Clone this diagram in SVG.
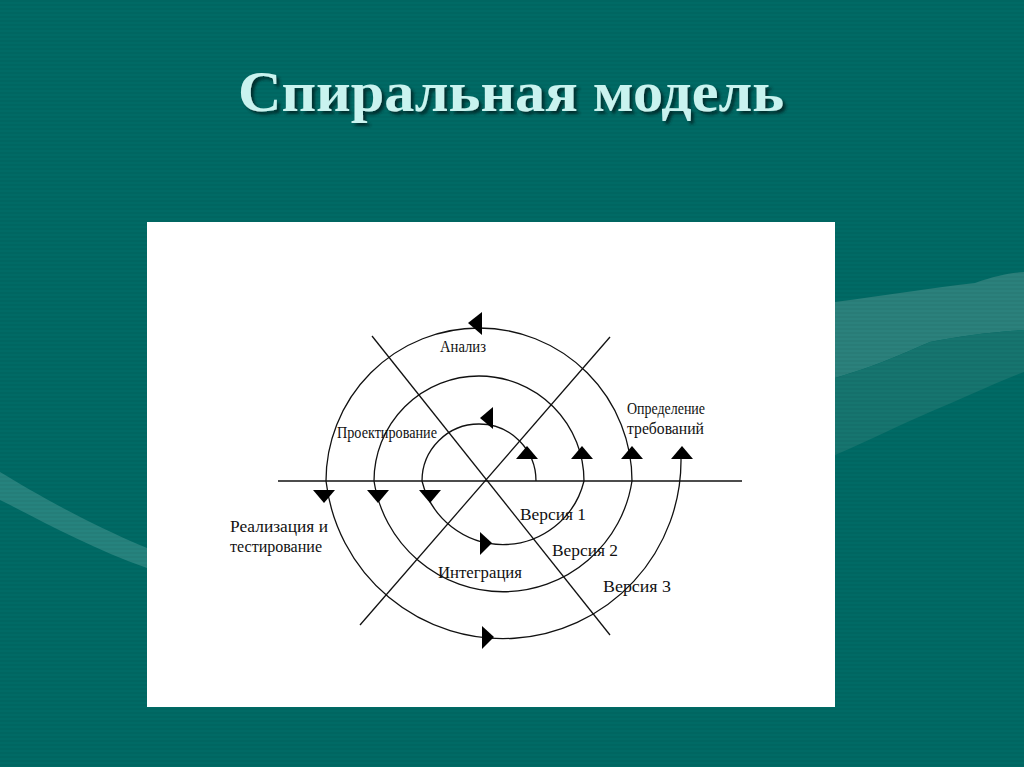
<svg xmlns="http://www.w3.org/2000/svg" width="1024" height="767" viewBox="0 0 1024 767">
<defs>
<pattern id="stripes" width="4" height="4" patternUnits="userSpaceOnUse">
<rect width="4" height="2" fill="#000" opacity="0.04"/>
</pattern>
<filter id="sh" x="-5%" y="-20%" width="110%" height="140%">
<feDropShadow dx="3" dy="3" stdDeviation="1.5" flood-color="#002a26" flood-opacity="0.9"/>
</filter>
</defs>
<style>
.ln{fill:none;stroke:#111;stroke-width:1.3}
.ah{fill:#000}
.lb{font-family:"Liberation Serif","Times New Roman",serif;font-size:16px;fill:#111}
.title{font-family:"Liberation Serif","Times New Roman",serif;font-size:58px;font-weight:bold;fill:#c9f3ef}
</style>
<rect width="1024" height="767" fill="#006a65"/>
<path d="M835,302 C880,296 930,288 975,283 C995,276 1010,273 1024,272 L1024,330 C990,332 960,336 930,342 C900,355 870,368 835,378 Z" fill="#2b817c"/>
<path d="M835,378 C870,368 900,355 930,342 C960,336 990,332 1024,330 L1024,372 C990,385 960,400 930,412 C900,425 870,440 835,455 Z" fill="#16756f"/>
<path d="M0,472 C30,490 80,520 147,548 L147,568 C90,548 40,520 0,500 Z" fill="#2f8a84" opacity="0.8"/>
<rect width="1024" height="767" fill="url(#stripes)"/>
<text class="title" x="511" y="111" text-anchor="middle" textLength="546" lengthAdjust="spacingAndGlyphs" filter="url(#sh)">Спиральная модель</text>
<rect x="147" y="222" width="688" height="485" fill="#fff"/>
<g id="connectors">
<line class="ln" x1="278" y1="481" x2="742" y2="481"/>
<line class="ln" x1="372" y1="336" x2="610" y2="635"/>
<line class="ln" x1="610" y1="337" x2="360" y2="625"/>
<path class="ln" d="M536,481 A57,57 0 0 0 422,481 A83.4,83.4 0 0 0 584,481 A105,105 0 0 0 374,481 A130.5,130.5 0 0 0 632,481 A153,153 0 0 0 326,481 A178.1,178.1 0 0 0 681,458"/>
</g>
<g id="arrows">
<polygon class="ah" points="468,323 482,312 482,335"/>
<polygon class="ah" points="480,418 493,407 493,429"/>
<polygon class="ah" points="516,459 527,446 538,459"/>
<polygon class="ah" points="571,459 582,446 593,459"/>
<polygon class="ah" points="621,459 632,446 643,459"/>
<polygon class="ah" points="671,459 682,446 693,459"/>
<polygon class="ah" points="313,490 335,490 324,503"/>
<polygon class="ah" points="367,490 389,490 378,503"/>
<polygon class="ah" points="419,490 441,490 430,503"/>
<polygon class="ah" points="492,543 480,532 480,555"/>
<polygon class="ah" points="494,637 482,626 482,649"/>
</g>
<g id="labels">
<text class="lb" x="440" y="352" textLength="46" lengthAdjust="spacingAndGlyphs">Анализ</text>
<text class="lb" x="627" y="414" textLength="78" lengthAdjust="spacingAndGlyphs">Определение</text>
<text class="lb" x="627" y="434" textLength="77" lengthAdjust="spacingAndGlyphs">требований</text>
<text class="lb" x="337" y="438" textLength="100" lengthAdjust="spacingAndGlyphs">Проектирование</text>
<text class="lb" x="230" y="532" textLength="98" lengthAdjust="spacingAndGlyphs">Реализация и</text>
<text class="lb" x="230" y="552" textLength="92" lengthAdjust="spacingAndGlyphs">тестирование</text>
<text class="lb" x="520" y="520" textLength="66" lengthAdjust="spacingAndGlyphs">Версия 1</text>
<text class="lb" x="552" y="556" textLength="66" lengthAdjust="spacingAndGlyphs">Версия 2</text>
<text class="lb" x="603" y="592" textLength="68" lengthAdjust="spacingAndGlyphs">Версия 3</text>
<text class="lb" x="438" y="578" textLength="84" lengthAdjust="spacingAndGlyphs">Интеграция</text>
</g>
</svg>
